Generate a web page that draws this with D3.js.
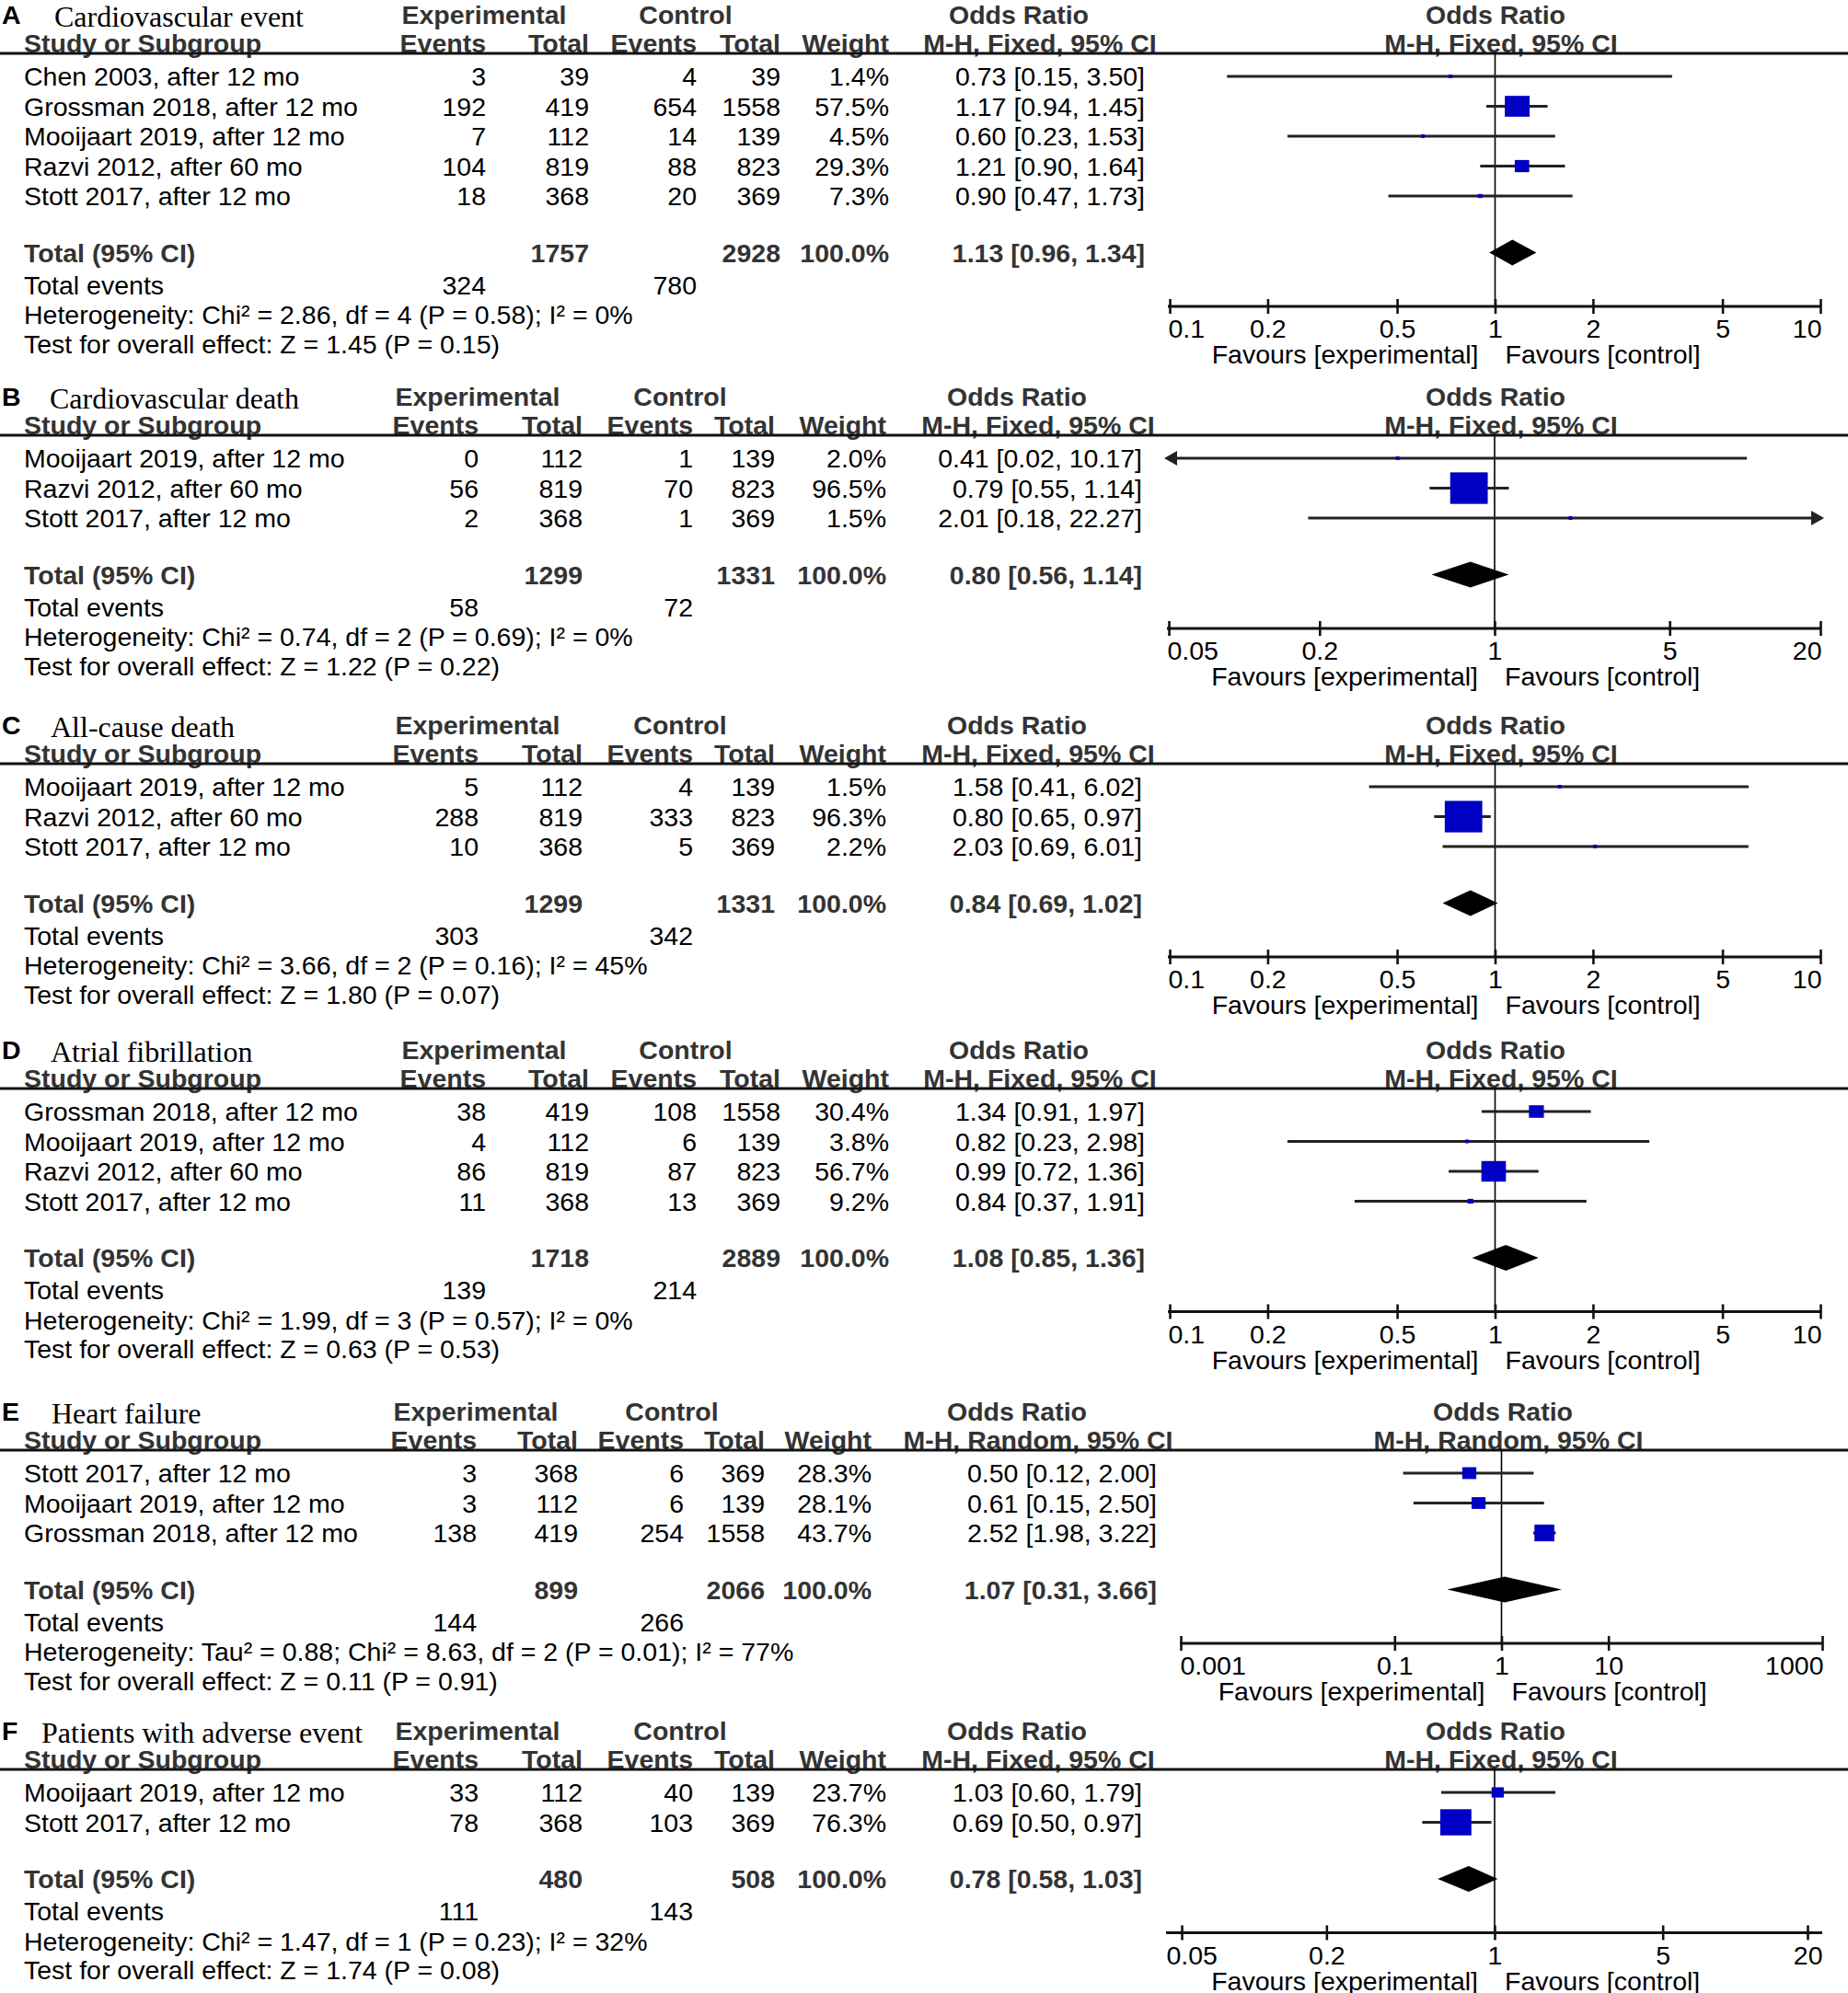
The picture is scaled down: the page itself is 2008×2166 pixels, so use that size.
<!DOCTYPE html>
<html>
<head>
<meta charset="utf-8">
<script src="https://cdn.jsdelivr.net/npm/d3@7"></script>
<style>
  body { margin: 0; background: #fff; }
  svg text { font-family: "Liberation Sans", Arial, sans-serif; font-size: 28.5px; fill: #000; }
</style>
</head>
<body>
<script>
// Panel letters, titles and model
const letters = ["A", "B", "C", "D", "E", "F"];
const titles = ["Cardiovascular event", "Cardiovascular death", "All-cause death",
                "Atrial fibrillation", "Heart failure", "Patients with adverse event"];
const models = ["Fixed", "Fixed", "Fixed", "Fixed", "Random", "Fixed"];

// study rows: name, exp events, exp total, ctrl events, ctrl total, weight %, OR, lower, upper
const cvEventRows = [
  ["Chen 2003, after 12 mo", 3, 39, 4, 39, 1.4, 0.73, 0.15, 3.50],
  ["Grossman 2018, after 12 mo", 192, 419, 654, 1558, 57.5, 1.17, 0.94, 1.45],
  ["Mooijaart 2019, after 12 mo", 7, 112, 14, 139, 4.5, 0.60, 0.23, 1.53],
  ["Razvi 2012, after 60 mo", 104, 819, 88, 823, 29.3, 1.21, 0.90, 1.64],
  ["Stott 2017, after 12 mo", 18, 368, 20, 369, 7.3, 0.90, 0.47, 1.73]
];
const cvDeathRows = [
  ["Mooijaart 2019, after 12 mo", 0, 112, 1, 139, 2.0, 0.41, 0.02, 10.17],
  ["Razvi 2012, after 60 mo", 56, 819, 70, 823, 96.5, 0.79, 0.55, 1.14],
  ["Stott 2017, after 12 mo", 2, 368, 1, 369, 1.5, 2.01, 0.18, 22.27]
];
const deathRows = [
  ["Mooijaart 2019, after 12 mo", 5, 112, 4, 139, 1.5, 1.58, 0.41, 6.02],
  ["Razvi 2012, after 60 mo", 288, 819, 333, 823, 96.3, 0.80, 0.65, 0.97],
  ["Stott 2017, after 12 mo", 10, 368, 5, 369, 2.2, 2.03, 0.69, 6.01]
];
const afRows = [
  ["Grossman 2018, after 12 mo", 38, 419, 108, 1558, 30.4, 1.34, 0.91, 1.97],
  ["Mooijaart 2019, after 12 mo", 4, 112, 6, 139, 3.8, 0.82, 0.23, 2.98],
  ["Razvi 2012, after 60 mo", 86, 819, 87, 823, 56.7, 0.99, 0.72, 1.36],
  ["Stott 2017, after 12 mo", 11, 368, 13, 369, 9.2, 0.84, 0.37, 1.91]
];
const hfRows = [
  ["Stott 2017, after 12 mo", 3, 368, 6, 369, 28.3, 0.50, 0.12, 2.00],
  ["Mooijaart 2019, after 12 mo", 3, 112, 6, 139, 28.1, 0.61, 0.15, 2.50],
  ["Grossman 2018, after 12 mo", 138, 419, 254, 1558, 43.7, 2.52, 1.98, 3.22]
];
const aeRows = [
  ["Mooijaart 2019, after 12 mo", 33, 112, 40, 139, 23.7, 1.03, 0.60, 1.79],
  ["Stott 2017, after 12 mo", 78, 368, 103, 369, 76.3, 0.69, 0.50, 0.97]
];

// totals: exp total, ctrl total, OR, lower, upper
const totals = [
  [1757, 2928, 1.13, 0.96, 1.34],
  [1299, 1331, 0.80, 0.56, 1.14],
  [1299, 1331, 0.84, 0.69, 1.02],
  [1718, 2889, 1.08, 0.85, 1.36],
  [899, 2066, 1.07, 0.31, 3.66],
  [480, 508, 0.78, 0.58, 1.03]
];
// total events: exp, ctrl
const totalEvents = [[324, 780], [58, 72], [303, 342], [139, 214], [144, 266], [111, 143]];

const heterogeneity = [
  "Heterogeneity: Chi² = 2.86, df = 4 (P = 0.58); I² = 0%",
  "Heterogeneity: Chi² = 0.74, df = 2 (P = 0.69); I² = 0%",
  "Heterogeneity: Chi² = 3.66, df = 2 (P = 0.16); I² = 45%",
  "Heterogeneity: Chi² = 1.99, df = 3 (P = 0.57); I² = 0%",
  "Heterogeneity: Tau² = 0.88; Chi² = 8.63, df = 2 (P = 0.01); I² = 77%",
  "Heterogeneity: Chi² = 1.47, df = 1 (P = 0.23); I² = 32%"
];
const overallEffect = [
  "Test for overall effect: Z = 1.45 (P = 0.15)",
  "Test for overall effect: Z = 1.22 (P = 0.22)",
  "Test for overall effect: Z = 1.80 (P = 0.07)",
  "Test for overall effect: Z = 0.63 (P = 0.53)",
  "Test for overall effect: Z = 0.11 (P = 0.91)",
  "Test for overall effect: Z = 1.74 (P = 0.08)"
];

// axis domains and tick values
const ticks10 = [0.1, 0.2, 0.5, 1, 2, 5, 10];
const ticks20 = [0.05, 0.2, 1, 5, 20];
const ticks1000 = [0.001, 0.1, 1, 10, 1000];
const domains = [[0.1, 10], [0.05, 20], [0.1, 10], [0.1, 10], [0.001, 1000], [0.05, 20]];
const tickSets = [ticks10, ticks20, ticks10, ticks10, ticks1000, ticks20];

const studyRows = [cvEventRows, cvDeathRows, deathRows, afRows, hfRows, aeRows];

// layout (pixel positions only)
const colsWide = [528, 640, 757, 848, 966, 1244];
const colsNarrow = [520, 633, 753, 842, 963, 1241];
const layout = [
  { L: 58,   cols: colsWide,   expC: 526, ctlC: 745, orC: 1107, mhC: 1130, titleX: 59, ax: [1271, 1978], line: [1269, 1979], fx: 1625 },
  { L: 473,  cols: colsNarrow, expC: 519, ctlC: 739, orC: 1105, mhC: 1128, titleX: 54, ax: [1270, 1978], line: [1268, 1979], fx: 1625 },
  { L: 830,  cols: colsNarrow, expC: 519, ctlC: 739, orC: 1105, mhC: 1128, titleX: 55, ax: [1271, 1978], line: [1269, 1979], fx: 1625 },
  { L: 1183, cols: colsWide,   expC: 526, ctlC: 745, orC: 1107, mhC: 1130, titleX: 55, ax: [1271, 1978], line: [1269, 1979], fx: 1625 },
  { L: 1576, cols: [518, 628, 743, 831, 947, 1257], expC: 517, ctlC: 730, orC: 1105, mhC: 1128, titleX: 56, ax: [1283, 1980], line: [1282, 1981], fx: 1633 },
  { L: 1923, cols: colsNarrow, expC: 519, ctlC: 739, orC: 1105, mhC: 1128, titleX: 45, ax: [1284, 1964], line: [1267, 1980], fx: 1625 }
];

const W = 2008, H = 2166;
const svg = d3.select("body").append("svg")
    .attr("width", W)
    .attr("height", H);

const f2 = d3.format(".2f");
const f1 = d3.format(".1f");
const boxSize = d3.scalePow().exponent(0.8).domain([0, 100]).range([0, 42]);
const serif = "'Liberation Serif', 'Times New Roman', serif";

function txt(g, x, y, s, anchor, bold) {
  return g.append("text")
      .attr("x", x)
      .attr("y", y)
      .attr("dy", "0.36em")
      .attr("text-anchor", anchor || "start")
      .style("font-weight", bold ? "bold" : "normal")
      .style("fill", bold ? "#333" : "#000")
      .text(s);
}

function drawPanel(i) {
  const lay = layout[i], rows = studyRows[i], L = lay.L, c = lay.cols;
  const g = svg.append("g");
  const x = d3.scaleLog().domain(domains[i]).range(lay.ax);
  const clampX = v => Math.max(lay.line[0], Math.min(lay.line[1], x(v)));

  const hy1 = L - 42, hy2 = L - 11;
  // title
  txt(g, 2, hy1, letters[i], "start", true).style("fill", "#000");
  txt(g, lay.titleX, hy1 + 1, titles[i]).style("font-family", serif).style("font-size", "32px");

  // column headers
  txt(g, lay.expC, hy1, "Experimental", "middle", true);
  txt(g, lay.ctlC, hy1, "Control", "middle", true);
  txt(g, lay.orC, hy1, "Odds Ratio", "middle", true);
  txt(g, lay.fx, hy1, "Odds Ratio", "middle", true);
  txt(g, 26, hy2, "Study or Subgroup", "start", true);
  txt(g, c[0], hy2, "Events", "end", true);
  txt(g, c[1], hy2, "Total", "end", true);
  txt(g, c[2], hy2, "Events", "end", true);
  txt(g, c[3], hy2, "Total", "end", true);
  txt(g, c[4], hy2, "Weight", "end", true);
  const mh = "M-H, " + models[i] + ", 95% CI";
  txt(g, lay.mhC, hy2, mh, "middle", true);
  txt(g, lay.fx + 6, hy2, mh, "middle", true);

  // separator line
  g.append("line")
      .attr("x1", 0).attr("x2", W)
      .attr("y1", L).attr("y2", L)
      .attr("stroke", "#111").attr("stroke-width", 3);

  const rowY = k => L + 25 + 32.5 * k;
  const lastY = rowY(rows.length - 1);
  const totY = lastY + 61.5, evY = totY + 35, hetY = evY + 32.5, zY = hetY + 31.5;
  const axisY = hetY - 9;

  // study rows
  rows.forEach((r, k) => {
    const y = rowY(k);
    txt(g, 26, y, r[0]);
    txt(g, c[0], y, r[1], "end");
    txt(g, c[1], y, r[2], "end");
    txt(g, c[2], y, r[3], "end");
    txt(g, c[3], y, r[4], "end");
    txt(g, c[4], y, f1(r[5]) + "%", "end");
    txt(g, c[5], y, f2(r[6]) + " [" + f2(r[7]) + ", " + f2(r[8]) + "]", "end");
  });

  // totals
  const t = totals[i];
  txt(g, 26, totY, "Total (95% CI)", "start", true);
  txt(g, c[1], totY, t[0], "end", true);
  txt(g, c[3], totY, t[1], "end", true);
  txt(g, c[4], totY, "100.0%", "end", true);
  txt(g, c[5], totY, f2(t[2]) + " [" + f2(t[3]) + ", " + f2(t[4]) + "]", "end", true);
  txt(g, 26, evY, "Total events");
  txt(g, c[0], evY, totalEvents[i][0], "end");
  txt(g, c[2], evY, totalEvents[i][1], "end");
  txt(g, 26, hetY, heterogeneity[i]);
  txt(g, 26, zY, overallEffect[i]);

  // null line
  g.append("line")
      .attr("x1", x(1)).attr("x2", x(1))
      .attr("y1", L).attr("y2", axisY)
      .attr("stroke", "#000").attr("stroke-width", 1.6);

  // confidence intervals
  rows.forEach((r, k) => {
    const y = rowY(k);
    const x1 = clampX(r[7]), x2 = clampX(r[8]);
    g.append("line")
        .attr("x1", x1).attr("x2", x2)
        .attr("y1", y).attr("y2", y)
        .attr("stroke", "#222").attr("stroke-width", 3);
    if (r[7] < domains[i][0]) {
      g.append("path")
          .attr("d", `M${x1 - 3},${y} l14,-8 l0,16 Z`)
          .attr("fill", "#222");
    }
    if (r[8] > domains[i][1]) {
      g.append("path")
          .attr("d", `M${x2 + 3},${y} l-14,-8 l0,16 Z`)
          .attr("fill", "#222");
    }
    const bw = Math.max(4, boxSize(r[5]));
    const bh = Math.max(4, bw * 0.84);
    g.append("rect")
        .attr("x", x(r[6]) - bw / 2)
        .attr("y", y - bh / 2)
        .attr("width", bw)
        .attr("height", bh)
        .attr("fill", "#0000c4");
  });

  // diamond
  g.append("path")
      .attr("d", `M${x(t[3])},${totY} L${x(t[2])},${totY - 14} L${x(t[4])},${totY} L${x(t[2])},${totY + 14} Z`)
      .attr("fill", "#000");

  // axis
  g.append("line")
      .attr("x1", lay.line[0]).attr("x2", lay.line[1])
      .attr("y1", axisY).attr("y2", axisY)
      .attr("stroke", "#111").attr("stroke-width", 3);
  const ax = g.append("g")
      .attr("transform", `translate(0,${axisY})`)
      .call(d3.axisBottom(x).tickValues(tickSets[i]).tickFormat(d => String(d)).tickSizeOuter(0));
  ax.select(".domain").remove();
  ax.selectAll(".tick line")
      .attr("y1", -8).attr("y2", 8)
      .attr("stroke", "#111").attr("stroke-width", 2.6);
  const n = tickSets[i].length;
  ax.selectAll(".tick text")
      .attr("y", 24)
      .attr("dy", "0.36em")
      .attr("fill", "#000")
      .style("font-size", "28.5px")
      .style("font-family", "'Liberation Sans', Arial, sans-serif")
      .attr("text-anchor", (d, k) => k === 0 ? "start" : k === n - 1 ? "end" : "middle")
      .attr("x", (d, k) => k === 0 ? lay.line[0] - x(d) : k === n - 1 ? lay.line[1] - x(d) : 0);

  txt(g, x(1) - 18, axisY + 52, "Favours [experimental]", "end");
  txt(g, x(1) + 11, axisY + 52, "Favours [control]", "start");
}

d3.range(6).forEach(drawPanel);
</script>
</body>
</html>
